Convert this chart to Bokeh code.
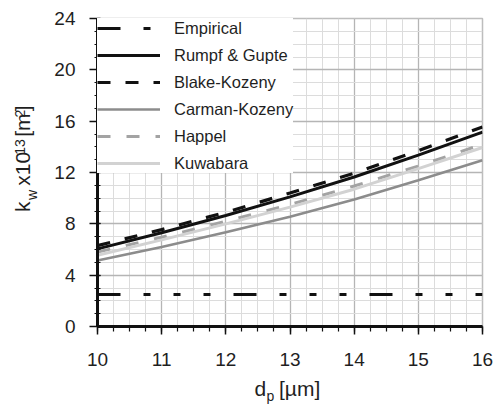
import math
from bokeh.plotting import figure
from bokeh.layouts import row, column
from bokeh.models import Range1d, FixedTicker, Legend, LegendItem
from bokeh.core.properties import value
from bokeh.embed import file_html
from bokeh.resources import INLINE

# ---- data ----
dp = [10, 11, 12, 13, 14, 15, 16]
empirical = [2.5, 2.5, 2.5, 2.5, 2.5, 2.5, 2.5]
rumpf_gupte = [6.05, 7.3, 8.65, 10.1, 11.65, 13.35, 15.15]
blake_kozeny = [6.3, 7.55, 8.9, 10.4, 11.95, 13.7, 15.55]
carman_kozeny = [5.15, 6.2, 7.35, 8.55, 9.9, 11.4, 12.95]
happel = [5.8, 6.95, 8.2, 9.5, 10.95, 12.5, 14.2]
kuwabara = [5.55, 6.75, 8.0, 9.3, 10.7, 12.3, 13.95]

x_ticks = [10, 11, 12, 13, 14, 15, 16]
y_ticks = [0, 4, 8, 12, 16, 20, 24]

FONT = "Liberation Sans"
TXT = "#1f1f1f"

# ---------------- layout sizes ----------------
W, H = 496, 404
YW = 50            # width of the y-title strip
MAIN_H = 375       # height of main chart
XH = H - MAIN_H    # height of x-title strip

# ---------------- main chart ----------------
p = figure(width=W - YW, height=MAIN_H, output_backend="svg",
           toolbar_location=None, title=None,
           x_range=Range1d(10, 16), y_range=Range1d(0, 24),
           min_border_left=47, min_border_right=14, min_border_top=18,
           min_border_bottom=MAIN_H - 18 - 308)
p.background_fill_color = "white"
p.border_fill_color = "white"
p.outline_line_color = "#bdbdbd"
p.outline_line_width = 1.5

x_minor = [10 + 0.25 * i for i in range(25)]
y_minor = list(range(0, 25))
p.xaxis.ticker = FixedTicker(ticks=x_ticks, minor_ticks=x_minor)
p.yaxis.ticker = FixedTicker(ticks=y_ticks, minor_ticks=y_minor)

for ax in (p.xaxis[0], p.yaxis[0]):
    ax.axis_line_color = "#111111"
    ax.axis_line_width = 3
    ax.major_tick_line_color = "#111111"
    ax.minor_tick_line_color = "#111111"
    ax.major_tick_line_width = 1.5
    ax.minor_tick_line_width = 1.2
    ax.major_label_text_font = FONT
    ax.major_label_text_font_size = "19px"
    ax.major_label_text_font_style = "normal"
    ax.major_label_text_color = TXT

p.yaxis.major_tick_out = 8
p.yaxis.major_tick_in = 3
p.yaxis.minor_tick_out = 3
p.yaxis.minor_tick_in = 3
p.yaxis.major_label_standoff = 14
p.xaxis.major_tick_out = 8
p.xaxis.major_tick_in = 0
p.xaxis.minor_tick_out = 5
p.xaxis.minor_tick_in = 0
p.xaxis.major_label_standoff = 18

for g in (p.xgrid[0], p.ygrid[0]):
    g.grid_line_color = "#b5b5b5"
    g.grid_line_width = 1.3
    g.minor_grid_line_color = "#dcdcdc"
    g.minor_grid_line_width = 1.0

r_emp = p.line(dp, empirical, line_color="#111111", line_width=3,
               line_dash="23 23 7 23 7 23 7 23")
r_rg = p.line(dp, rumpf_gupte, line_color="#111111", line_width=3)
r_bk = p.line(dp, blake_kozeny, line_color="#111111", line_width=3.2,
              line_dash="13 15")
r_ck = p.line(dp, carman_kozeny, line_color="#8c8c8c", line_width=2.6)
r_hp = p.line(dp, happel, line_color="#a3a3a3", line_width=3, line_dash="13 16")
r_kw = p.line(dp, kuwabara, line_color="#d2d2d2", line_width=3)

legend = Legend(items=[
    LegendItem(label="Empirical", renderers=[r_emp]),
    LegendItem(label="Rumpf & Gupte", renderers=[r_rg]),
    LegendItem(label="Blake-Kozeny", renderers=[r_bk]),
    LegendItem(label="Carman-Kozeny", renderers=[r_ck]),
    LegendItem(label="Happel", renderers=[r_hp]),
    LegendItem(label="Kuwabara", renderers=[r_kw]),
], location="top_left")
legend.margin = 0
legend.padding = 4
legend.spacing = 7
legend.glyph_width = 63
legend.glyph_height = 20
legend.label_height = 20
legend.label_standoff = 14
legend.label_text_font = FONT
legend.label_text_font_size = "16.5px"
legend.label_text_color = TXT
legend.background_fill_color = "white"
legend.background_fill_alpha = 1.0
legend.border_line_color = None
p.add_layout(legend, "center")


def strip(width, height):
    f = figure(width=width, height=height, output_backend="svg",
               toolbar_location=None, title=None,
               x_range=Range1d(0, width), y_range=Range1d(0, height),
               x_axis_location=None, y_axis_location=None, min_border=0)
    f.grid.visible = False
    f.outline_line_color = None
    f.background_fill_color = "white"
    f.border_fill_color = "white"
    return f


def put(f, strip_h, txt, px, py, size, angle=0.0):
    # px, py: anchor inside the strip (py measured from its top)
    f.text(x=[px], y=[strip_h - py], text=[txt], text_font=value(FONT),
           text_font_size=value(size), text_color=TXT,
           text_baseline="alphabetic", text_align="left", angle=angle)


# ---------------- y-axis title strip: k_w x10^13 [m^2] ----------------
yf = strip(YW, MAIN_H)
A = math.pi / 2
bx = 22      # anchor column of the 21px pieces
put(yf, MAIN_H, "k", bx, 235.5, "21px", A)
put(yf, MAIN_H, "w", bx + 9, 221, "14px", A)
put(yf, MAIN_H, "x10", bx, 203.5, "21px", A)
put(yf, MAIN_H, "13", bx - 3, 166, "14px", A)
put(yf, MAIN_H, "[m", bx, 144, "21px", A)
put(yf, MAIN_H, "2", bx - 3, 120.5, "14px", A)
put(yf, MAIN_H, "]", bx, 113, "21px", A)

# ---------------- x-axis title strip: d_p [µm] ----------------
xf = strip(W, XH)
base = 388 - MAIN_H
put(xf, XH, "d", 254, base, "21px")
put(xf, XH, "p", 266, base + 7, "14px")
put(xf, XH, "[\u00b5m]", 278.5, base, "21px")

layout = column(row(yf, p, spacing=0), xf, spacing=0)

open("out.html", "w").write(file_html(layout, INLINE))
